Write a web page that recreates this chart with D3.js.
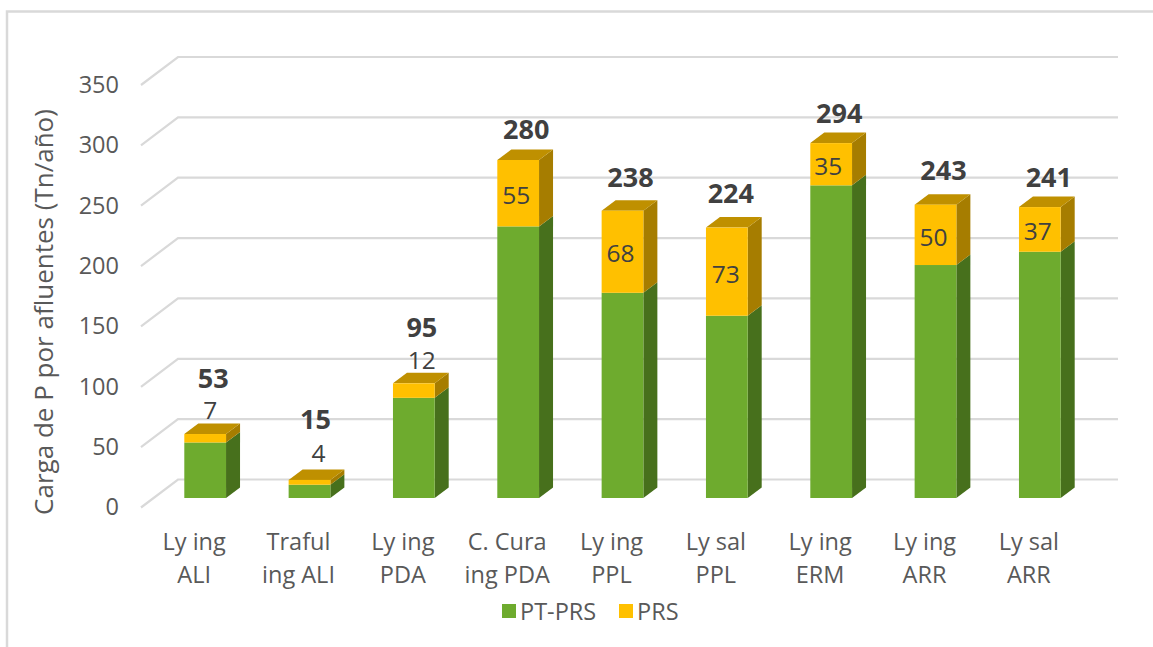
<!DOCTYPE html>
<html><head><meta charset="utf-8">
<script src="https://cdn.jsdelivr.net/npm/d3@7"></script>
<style>html,body{margin:0;padding:0;background:#fff}svg{display:block}text{font-family:"Open Sans",sans-serif}</style>
</head><body><svg id="c" width="1153" height="647"></svg>
<script>
const categories = [["Ly ing","ALI"],["Traful","ing ALI"],["Ly ing","PDA"],["C. Cura","ing PDA"],["Ly ing","PPL"],["Ly sal","PPL"],["Ly ing","ERM"],["Ly ing","ARR"],["Ly sal","ARR"]];
const ptPrs = [46,11,83,225,170,151,259,193,204];
const prs = [7,4,12,55,68,73,35,50,37];
const totals = [53,15,95,280,238,224,294,243,241];
const yTicks = [0,50,100,150,200,250,300,350];
const seriesNames = ["PT-PRS","PRS"];

// layout nudges for hand-placed labels (px), separate from the data
const totalNudge = [[8,-46],[6,-51],[8,-46],[8,-21],[8,-24],[4,-25],[8,-20],[8,-25],[9,-20]];
const prsNudge = [[5,-15],[9,-18],[8,-14],[-2,11],[-2,10],[-1,11],[-3,11],[-2,11],[-2,11]];

const svg = d3.select("#c");
const colors = {g:"#6EAB2E",gs:"#47701C",y:"#FFC000",yt:"#BF9000",ys:"#A67D00",grid:"#D9D9D9",txt:"#595959",lab:"#404040"};

// frame
svg.append("path").attr("d","M7,647V11.5H1153").attr("fill","none").attr("stroke","#D9D9D9").attr("stroke-width",2.5);

// scales
const yBack = d3.scaleLinear().domain([0,350]).range([479.5,57]);
const yFront = d3.scaleLinear().domain([0,350]).range([498,75.5]);
const x = d3.scaleBand().domain(d3.range(categories.length)).range([153,1092]).paddingInner(.6).paddingOuter(.3);
const dx = 14, dy = 10.5;

// gridlines
svg.append("g").selectAll("path").data(yTicks).join("path")
 .attr("d",d=>`M141,${yBack(d)+28}L178,${yBack(d)}H1118`)
 .attr("fill","none").attr("stroke",colors.grid).attr("stroke-width",2.2);

// y axis labels
const yAxisG = svg.append("g").attr("transform","translate(119,0)")
 .call(d3.axisLeft(d3.scaleLinear().domain([0,350]).range([yBack(0)+27,yBack(350)+27])).tickValues(yTicks).tickSize(0).tickPadding(0));
yAxisG.select(".domain").remove();
yAxisG.selectAll("text").attr("fill",colors.txt).style("font-size","23.5px").style("font-family",'"Open Sans",sans-serif').attr("dy","0.36em");

svg.append("text").attr("transform","translate(53,312) rotate(-90)").attr("text-anchor","middle")
 .attr("fill",colors.txt).style("font-size","26px").text("Carga de P por afluentes (Tn/año)");

// bars
const bw = x.bandwidth();
const bars = svg.append("g").selectAll("g").data(categories.map((c,i)=>i)).join("g");
bars.each(function(i){
  const g = d3.select(this), L = x(i), R = L+bw;
  const y0 = yFront(0), y1 = yFront(ptPrs[i]), y2 = yFront(ptPrs[i]+prs[i]);
  g.append("path").attr("d",`M${R},${y0}L${R+dx},${y0-dy}V${y1-dy}L${R},${y1}Z`).attr("fill",colors.gs);
  g.append("path").attr("d",`M${R},${y1}L${R+dx},${y1-dy}V${y2-dy}L${R},${y2}Z`).attr("fill",colors.ys);
  g.append("path").attr("d",`M${L},${y2}L${L+dx},${y2-dy}H${R+dx}L${R},${y2}Z`).attr("fill",colors.yt);
  g.append("rect").attr("x",L).attr("y",y1).attr("width",bw).attr("height",y0-y1).attr("fill",colors.g);
  g.append("rect").attr("x",L).attr("y",y2).attr("width",bw).attr("height",y1-y2).attr("fill",colors.y);
  const c = L+bw/2;
  const inside = i>=3;
  g.append("text").attr("x",c+prsNudge[i][0])
   .attr("y",(inside?(y1+y2)/2:y2)+prsNudge[i][1])
   .attr("text-anchor","middle").attr("fill",colors.lab).style("font-size","24.5px").text(prs[i]);
  g.append("text").attr("x",c+totalNudge[i][0]).attr("y",y2+totalNudge[i][1])
   .attr("text-anchor","middle").attr("fill",colors.lab).style("font-size","27px").style("font-weight",700).text(totals[i]);
});

// category labels
const catG = svg.append("g").selectAll("text").data(categories).join("text")
 .attr("text-anchor","middle").attr("fill",colors.txt).style("font-size","23.5px");
catG.each(function(d,i){
  const t = d3.select(this), cx = x(i)+bw/2-11;
  t.selectAll("tspan").data(d).join("tspan").attr("x",cx).attr("y",(_,k)=>550+k*32.5).text(s=>s);
});

// legend
const legendX = [[502,520],[619,637]];
const legendC = [colors.g,colors.y];
seriesNames.forEach((n,i)=>{
  svg.append("rect").attr("x",legendX[i][0]).attr("y",604).attr("width",14).attr("height",14).attr("fill",legendC[i]);
  svg.append("text").attr("x",legendX[i][1]).attr("y",620).attr("fill",colors.txt).style("font-size","23.5px").text(n);
});
</script></body></html>
